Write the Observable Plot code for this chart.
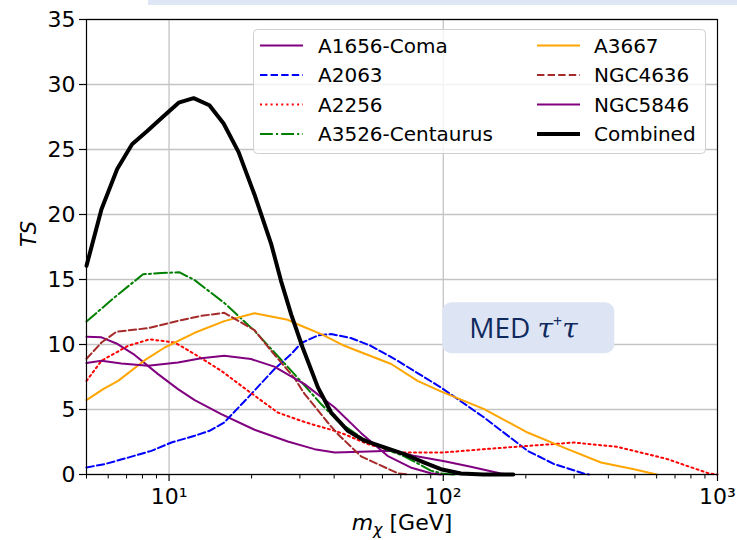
<!DOCTYPE html>
<html><head><meta charset="utf-8">
<script src="https://cdn.jsdelivr.net/npm/d3@7"></script>
<script src="https://cdn.jsdelivr.net/npm/@observablehq/plot@0.6"></script>
<style>body{margin:0;background:white;} #chart{position:relative;width:737px;height:540px;}
#chart svg g[aria-label$="tick label"] text{font-size:22px !important;}</style>
</head><body><div id="chart"></div>
<script>
// ---- data ----
const comaX = [5, 5.67, 6.43, 7.49, 9.12, 10.78, 12.4, 15.5, 20.5, 27.1, 33.9, 40.2, 50.1, 64.6, 78, 101, 126, 162, 175];
const comaY = [10.6, 10.55, 10.08, 9.2, 7.72, 6.57, 5.72, 4.64, 3.44, 2.54, 1.95, 1.7, 1.75, 1.82, 1.45, 1.02, 0.59, 0.08, 0];
const a2063X = [5, 5.83, 7.09, 8.62, 10.2, 12.4, 14.05, 15.9, 19.4, 24.2, 27.9, 30.3, 34.9, 39, 46, 54.4, 66.3, 98, 141, 203, 254, 325, 340];
const a2063Y = [0.54, 0.8, 1.3, 1.82, 2.46, 2.98, 3.36, 4.0, 5.92, 8.1, 9.26, 10.1, 10.7, 10.8, 10.5, 9.9, 8.9, 6.7, 4.38, 1.82, 0.8, 0.08, 0];
const a2256X = [5, 5.67, 7.09, 8.5, 10.5, 12.4, 15.5, 19.4, 24.9, 30.3, 33, 40.2, 43.6, 53, 68.5, 101, 141, 203, 300, 430, 658, 930, 1000];
const a2256Y = [7.2, 8.75, 9.9, 10.4, 10.15, 9.26, 7.98, 6.44, 4.77, 4.13, 3.88, 3.36, 3.1, 2.34, 1.7, 1.7, 1.95, 2.2, 2.46, 2.13, 1.18, 0.08, 0];
const a3526X = [5, 6.43, 8.04, 9.37, 10.93, 12.4, 15.9, 20.5, 28.7, 35.9, 41.3, 50.1, 61, 72, 80, 90, 100, 110];
const a3526Y = [11.77, 13.75, 15.4, 15.5, 15.55, 14.95, 13.2, 11.05, 7.7, 5.4, 4.1, 2.85, 2.0, 1.4, 0.9, 0.3, 0.05, 0];
const a3667X = [5, 5.75, 6.52, 8.27, 9.64, 12.4, 15.9, 20.5, 27.1, 30.3, 35.9, 43.6, 50.1, 64.6, 80.6, 98, 141, 203, 284, 376, 496, 600];
const a3667Y = [5.72, 6.57, 7.2, 8.88, 9.77, 10.9, 11.8, 12.4, 11.9, 11.44, 10.8, 9.9, 9.4, 8.5, 7.2, 6.4, 5.03, 3.23, 1.95, 0.92, 0.41, 0];
const n4636X = [5, 5.67, 6.43, 8.38, 10.78, 13.1, 15.9, 20.5, 23.6, 28.7, 31.2, 37.9, 41.3, 50.1, 54.4, 68.5, 75];
const n4636Y = [8.9, 10.15, 10.98, 11.26, 11.82, 12.2, 12.44, 11.1, 9.5, 7.4, 6.2, 4.0, 3.1, 1.4, 1.05, 0.08, 0];
const n5846X = [5, 5.67, 6.7, 8.38, 10.78, 13.1, 15.9, 19.9, 24.2, 31.2, 40.2, 50.1, 62.6, 76, 90, 98];
const n5846Y = [8.57, 8.75, 8.54, 8.36, 8.62, 8.95, 9.13, 8.88, 8.3, 6.95, 5.15, 3.2, 1.44, 0.54, 0.1, 0];
const combX = [5, 5.67, 6.47, 7.33, 8.31, 9.48, 10.84, 12.29, 14.03, 15.81, 17.93, 20.6, 23.6, 25.6, 27.9, 30.7, 34.9, 39.0, 44.9, 51.6, 61.0, 72.1, 85.3, 98, 116, 140, 180];
const combY = [16.05, 20.4, 23.5, 25.4, 26.4, 27.5, 28.6, 28.95, 28.4, 27.0, 24.8, 21.4, 17.7, 14.9, 12.3, 9.77, 6.7, 4.77, 3.36, 2.6, 2.08, 1.57, 0.92, 0.41, 0.08, 0, 0];

const names  = ["A1656-Coma", "A2063", "A2256", "A3526-Centaurus", "A3667", "NGC4636", "NGC5846", "Combined"];
const seriesX = [comaX, a2063X, a2256X, a3526X, a3667X, n4636X, n5846X, combX];
const seriesY = [comaY, a2063Y, a2256Y, a3526Y, a3667Y, n4636Y, n5846Y, combY];
const colors = ["#800080", "#0000ff", "#ff0000", "#008000", "#ffa500", "#a52a2a", "#800080", "#000000"];
const dashes = [null, "7.4,3.2", "2,3.3", "12.8,3.2,2,3.2", null, "7.4,3.2", null, null];
const widths = [2, 2, 2, 2, 2, 2, 2, 4];

const yTicks = [0, 5, 10, 15, 20, 25, 30, 35];
const xMajor = [10, 100, 1000];
const xMajorLabels = ["10¹", "10²", "10³"];
const xMinor = [5, 6, 7, 8, 9, 20, 30, 40, 50, 60, 70, 80, 90, 200, 300, 400, 500, 600, 700, 800, 900];
const annotText = "MED";
const annotX = 205, annotY = 11.25;

// ---- chart ----
const lineMarks = names.map((n, i) => {
  const rows = seriesX[i].map((x, j) => ({x, y: seriesY[i][j]}));
  const opts = {x: "x", y: "y", stroke: colors[i], strokeWidth: widths[i], strokeLinejoin: "round"};
  if (dashes[i]) opts.strokeDasharray = dashes[i];
  return Plot.line(rows, opts);
});

const plot = Plot.plot({
  width: 737, height: 540,
  marginLeft: 86, marginRight: 20, marginTop: 19, marginBottom: 66,
  style: {fontFamily: "DejaVu Sans", fontSize: "20px", background: "white", color: "black"},
  x: {type: "log", domain: [5, 1000]},
  y: {domain: [0, 35]},
  marks: [
    Plot.gridY(yTicks, {stroke: "#c4c4c4", strokeOpacity: 1, strokeWidth: 1.3}),
    Plot.gridX([10, 100], {stroke: "#c4c4c4", strokeOpacity: 1, strokeWidth: 1.3}),
    ...lineMarks,
    Plot.frame({stroke: "black", strokeWidth: 1.2}),
    Plot.axisY(yTicks, {tickSize: 7, tickPadding: 4, fontSize: 22, label: null, strokeWidth: 1.2}),
    Plot.axisX(xMajor, {tickSize: 7, tickPadding: 7, fontSize: 22, label: null, strokeWidth: 1.2,
      tickFormat: d => xMajorLabels[xMajor.indexOf(d)]}),
    Plot.axisX(xMinor, {tickSize: 4.5, label: null, strokeWidth: 1, tickFormat: () => ""}),
    Plot.text(["TS"], {frameAnchor: "left", dx: -57, rotate: -90, fontStyle: "italic", fontSize: 21})
  ]
});
document.getElementById("chart").appendChild(plot);

const svg = d3.select(plot);
const sx = plot.scale("x"), sy = plot.scale("y");

// faint box remnant at the top
svg.insert("rect", ":first-child").attr("x", 148).attr("y", 0).attr("width", 589).attr("height", 5).attr("fill", "#dfe7f6");

// x axis label
const xl = svg.append("text").attr("x", 402).attr("y", 530).attr("text-anchor", "middle")
  .attr("font-family", "DejaVu Sans").attr("font-size", 22).attr("fill", "black");
xl.append("tspan").attr("font-style", "italic").text("m");
xl.append("tspan").attr("font-style", "italic").attr("font-size", 16).attr("dy", 5).text("χ");
xl.append("tspan").attr("dy", -5).text(" [GeV]");

// annotation box
const ax = sx.apply(annotX), ay = sy.apply(annotY);
const ag = svg.append("g");
ag.append("rect").attr("x", ax - 86).attr("y", ay - 25.5).attr("width", 172).attr("height", 51)
  .attr("rx", 9).attr("fill", "#dde5f5");
const at = ag.append("text").attr("x", ax - 59).attr("y", ay + 10).attr("text-anchor", "start").attr("fill", "#102a5e")
  .attr("font-family", "Open Sans").attr("font-size", 28);
at.append("tspan").text(annotText + " ");
at.append("tspan").attr("font-family", "DejaVu Serif").attr("font-style", "italic").attr("font-size", 28).text("τ");
at.append("tspan").attr("font-size", 16).attr("dy", -11).text("+");
at.append("tspan").attr("font-family", "DejaVu Serif").attr("font-style", "italic").attr("font-size", 28).attr("dy", 11).text("τ");

// legend
const lg = svg.append("g").attr("font-family", "DejaVu Sans").attr("font-size", 20).attr("text-anchor", "start");
lg.append("rect").attr("x", 253.5).attr("y", 29.5).attr("width", 452).attr("height", 124).attr("rx", 4)
  .attr("fill", "white").attr("fill-opacity", 0.8).attr("stroke", "#d0d0d0").attr("stroke-width", 1);
names.forEach((n, i) => {
  const col = Math.floor(i / 4), row = i % 4;
  const lx = col === 0 ? 260 : 537, tx = col === 0 ? 318 : 594;
  const ly = 45.5 + row * 29.5;
  const l = lg.append("line").attr("x1", lx).attr("x2", lx + 43).attr("y1", ly).attr("y2", ly)
    .attr("stroke", colors[i]).attr("stroke-width", widths[i]);
  if (dashes[i]) l.attr("stroke-dasharray", dashes[i]);
  lg.append("text").attr("x", tx).attr("y", ly + 7).attr("text-anchor", "start").attr("fill", "black").text(n);
});
</script>
</body></html>
